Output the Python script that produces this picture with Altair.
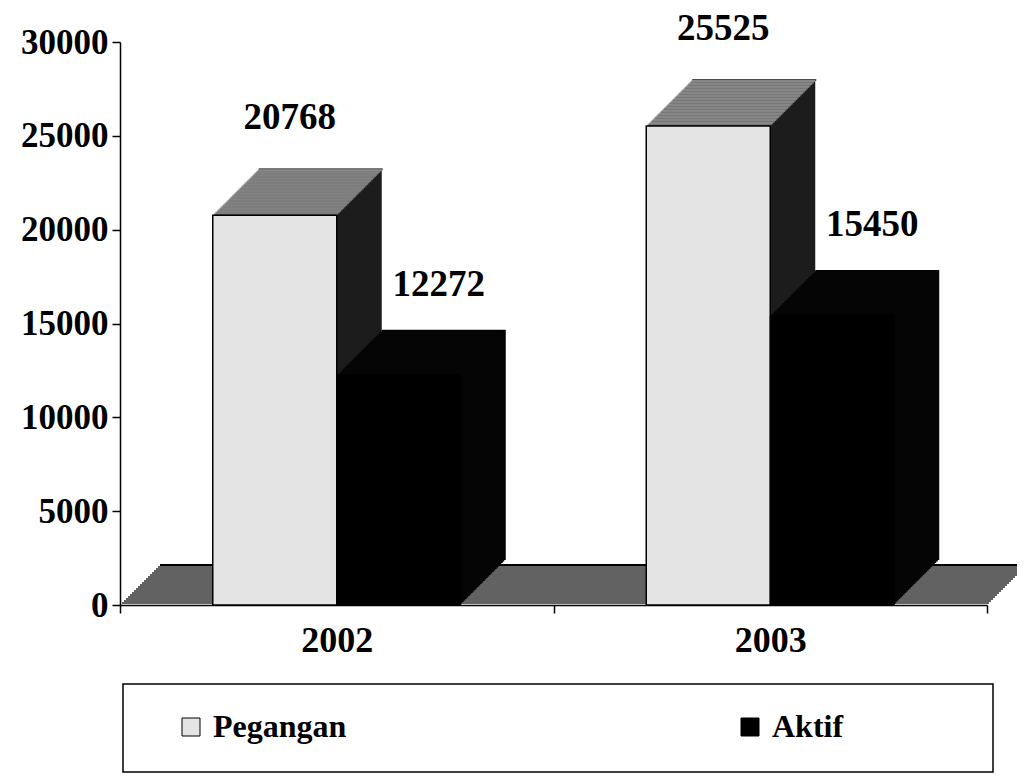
import altair as alt
import pandas as pd

# ---- data ----
years = ["2002", "2003"]
series = ["Pegangan", "Aktif"]
pegangan = [20768, 25525]
aktif = [12272, 15450]
y_ticks = [0, 5000, 10000, 15000, 20000, 25000, 30000]

rows = []
for i, yr in enumerate(years):
    rows.append({"Year": yr, "Series": "Pegangan", "Value": pegangan[i]})
    rows.append({"Year": yr, "Series": "Aktif", "Value": aktif[i]})
df = pd.DataFrame(rows)

# ---- styling ----
W, H = 867, 563
BAR_W = 124
HALF = 62
DEPTH = 45
FLOOR_DEPTH = 40
FONT = "Liberation Serif"
C_FRONT = "#e4e4e4"
C_TOP = "#a0a0a0"
C_SIDE = "#1c1c1c"
C_AKTIF = "#050505"
C_FLOOR = "#626262"

xscale = alt.Scale(domain=years, paddingInner=0, paddingOuter=0)
yscale = alt.Scale(domain=[0, 30000], nice=False)

x_enc = alt.X(
    "Year:N", scale=xscale,
    axis=alt.Axis(title=None, labelAngle=0, tickBand="extent", labelFont=FONT,
                  labelFontSize=36, labelFontWeight="bold", labelColor="black",
                  labelPadding=10, tickSize=8, tickColor="black", tickWidth=1.5,
                  domainColor="black", domainWidth=1.5),
)
y_enc = alt.Y(
    "Value:Q", scale=yscale,
    axis=alt.Axis(title=None, values=y_ticks, format="d", grid=False, labelFont=FONT,
                  labelFontSize=35, labelFontWeight="bold", labelColor="black",
                  labelPadding=4, tickSize=8, tickColor="black", tickWidth=1.5,
                  domainColor="black", domainWidth=1.5),
)

base = alt.Chart(df)
peg = base.transform_filter(alt.datum.Series == "Pegangan")
akt = base.transform_filter(alt.datum.Series == "Aktif")

layers = []

# floor (3-D base plane), drawn as stacked shifted rules
one = alt.Chart(pd.DataFrame({"k": [0]}))
for k in range(FLOOR_DEPTH, 0, -2):
    col = "black" if k == FLOOR_DEPTH else C_FLOOR
    layers.append(
        one.mark_rule(color=col, strokeWidth=2.2, xOffset=k, x2Offset=k, yOffset=-k).encode(
            x=alt.value(0), x2=alt.value(W), y=alt.value(H)
        )
    )

# extrusion of the bars (back to front)
layers.append(
    peg.mark_tick(size=BAR_W, thickness=2, color="black",
                  xOffset=-HALF + DEPTH + 1, yOffset=-DEPTH - 1).encode(x=x_enc, y=y_enc)
)
k = DEPTH
steps = []
while k > 0:
    steps.append(k)
    k -= 1.5
for k in steps:
    layers.append(
        akt.mark_bar(width=BAR_W, color=C_AKTIF, xOffset=HALF + k, yOffset=-k).encode(
            x=x_enc, y=y_enc)
    )
    layers.append(
        peg.mark_bar(width=BAR_W, color=C_SIDE, xOffset=-HALF + k, yOffset=-k).encode(
            x=x_enc, y=y_enc)
    )
    layers.append(
        peg.mark_tick(size=BAR_W, thickness=2, color=C_TOP, xOffset=-HALF + k, yOffset=-k).encode(
            x=x_enc, y=y_enc)
    )

color = alt.Color(
    "Series:N",
    scale=alt.Scale(domain=series, range=[C_FRONT, "#000000"]),
    legend=alt.Legend(
        title=None, orient="none", legendX=55, legendY=669, direction="horizontal",
        labelFont=FONT, labelFontSize=32, labelFontWeight="bold", labelColor="black",
        symbolType="square", symbolSize=324, symbolStrokeColor="black",
        symbolStrokeWidth=1, columnPadding=387, labelOffset=6, padding=0,
    ),
)

# front faces
layers.append(
    peg.mark_bar(width=BAR_W, xOffset=-HALF, stroke="black", strokeWidth=1.5).encode(
        x=x_enc, y=y_enc, color=color)
)
layers.append(
    akt.mark_bar(width=BAR_W, xOffset=HALF, stroke="black", strokeWidth=1).encode(
        x=x_enc, y=y_enc, color=color)
)

# value labels
layers.append(
    peg.mark_text(font=FONT, fontSize=37, fontWeight="bold", color="black",
                  dx=-47, dy=-97).encode(x=x_enc, y=y_enc, text=alt.Text("Value:Q", format="d"))
)
layers.append(
    akt.mark_text(font=FONT, fontSize=37, fontWeight="bold", color="black",
                  dx=102, dy=-90).encode(x=x_enc, y=y_enc, text=alt.Text("Value:Q", format="d"))
)

# legend frame
layers.append(
    one.mark_rect(fill="white", fillOpacity=0, stroke="black", strokeWidth=1.5).encode(
        x=alt.value(3), x2=alt.value(873), y=alt.value(642), y2=alt.value(730))
)

chart = alt.layer(*layers).properties(
    width=W, height=H,
    background="white",
    autosize=alt.AutoSizeParams(type="none"),
    padding={"left": 112, "top": 34, "right": 30, "bottom": 170},
).configure_view(strokeWidth=0, stroke="transparent")

chart.save("out.html", embed_options={"renderer": "svg", "actions": False})
